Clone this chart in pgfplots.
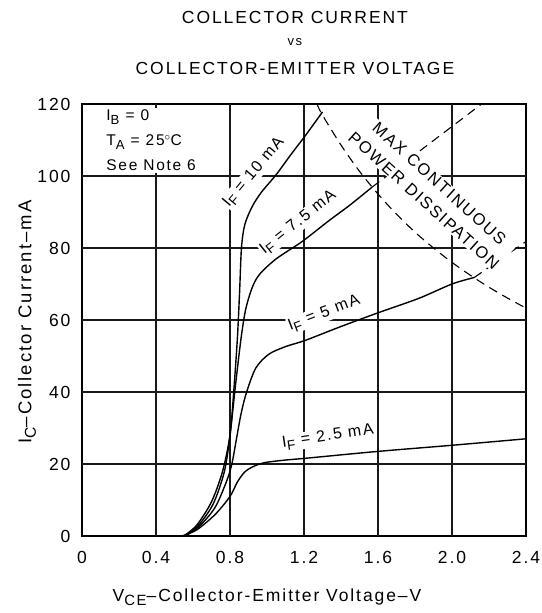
\documentclass[border=0pt]{standalone}
\usepackage{graphicx}
\usepackage{pgfplots}
\usepackage{pgfplotstable}
\pgfplotsset{compat=1.18}
\usepackage{fontspec}
\setmainfont{Liberation Sans}[LetterSpace=11]
\newcommand{\sub}[1]{\raisebox{-0.45ex}{\scalebox{0.85}{#1}}}
\pgfplotstableread{
x y
0.4 0
0.4 60
0.4 120
}\gA
\pgfplotstableread{
x y
0.8 0
0.8 60
0.8 120
}\gB
\pgfplotstableread{
x y
1.2 0
1.2 60
1.2 120
}\gC
\pgfplotstableread{
x y
1.6 0
1.6 60
1.6 120
}\gD
\pgfplotstableread{
x y
2.0 0
2.0 60
2.0 120
}\gE
\begin{document}
\begin{tikzpicture}
\begin{axis}[
  name=ax,
  scale only axis, width=444pt, height=432pt,
  xmin=0, xmax=2.4, ymin=0, ymax=120,
  xtick={0,0.4,0.8,1.2,1.6,2.0,2.4},
  xticklabels={0,0.4,0.8,1.2,1.6,2.0,2.4},
  ytick={0,20,40,60,80,100,120},
  yticklabels={0,20,40,60,80,100,120},
  grid=major,
  major grid style={draw=black!90, line width=1.1pt},
  axis line style={line width=1.3pt},
  tick align=inside,
  major tick length=3pt,
  tick label style={font=\fontsize{17.5}{20}\selectfont},
  xticklabel style={yshift=-12pt},
  yticklabel style={xshift=-8pt},
  clip=false,
  /pgf/number format/assume math mode=true,
]
\addplot[draw=black!90, line width=1.1pt] table {\gA};
\addplot[draw=black!90, line width=1.1pt] table {\gB};
\addplot[draw=black!90, line width=1.1pt] table {\gC};
\addplot[draw=black!90, line width=1.1pt] table {\gD};
\addplot[draw=black!90, line width=1.1pt] table {\gE};
\addplot[draw=black!90, line width=1.1pt] coordinates {(0,20) (1.2,20) (2.4,20)};
\addplot[draw=black!90, line width=1.1pt] coordinates {(0,40) (1.2,40) (2.4,40)};
\addplot[draw=black!90, line width=1.1pt] coordinates {(0,60) (1.2,60) (2.4,60)};
\addplot[draw=black!90, line width=1.1pt] coordinates {(0,80) (1.2,80) (2.4,80)};
\addplot[draw=black!90, line width=1.1pt] coordinates {(0,100) (1.2,100) (2.4,100)};
% I_F = 2.5 mA
\addplot[black, line width=1.4pt, smooth] coordinates {
(0.54,0) (0.62,1.7) (0.72,6) (0.80,11) (0.84,15) (0.88,17.8) (0.93,19.4) (0.99,20.4) (1.10,21.1) (1.21,21.6) (1.6,23.5) (2.0,25.2) (2.4,27)};
% I_F = 5 mA
\addplot[black, line width=1.4pt, smooth] coordinates {
(0.56,0) (0.64,3) (0.72,8) (0.78,15) (0.81,20) (0.835,27) (0.86,34) (0.89,40) (0.94,46.7) (1.01,50.5) (1.10,52.6) (1.21,54.4) (1.40,58.2) (1.60,62) (1.82,66) (2.0,70) (2.12,71.8)};
% I_F = 7.5 mA
\addplot[black, line width=1.4pt, smooth] coordinates {
(0.555,0) (0.63,3) (0.71,9) (0.77,18) (0.80,28) (0.83,42) (0.86,55) (0.885,63) (0.92,69) (0.96,72.7) (1.05,77) (1.19,81.8) (1.33,87.4) (1.45,92) (1.568,96.9)};
% I_F = 10 mA
\addplot[black, line width=1.4pt, smooth] coordinates {
(0.55,0) (0.62,3) (0.70,9.5) (0.76,18) (0.80,28) (0.82,40) (0.84,55) (0.852,68) (0.862,80) (0.88,86.5) (0.92,91.5) (0.97,95.5) (1.05,100.4) (1.13,106) (1.21,111.4) (1.30,117.8)};
% max power dissipation
\addplot[black, line width=1.1pt, dash pattern=on 9pt off 6pt, smooth] coordinates {
(1.27,120) (1.3,116.9) (1.4,108.6) (1.5,101.3) (1.6,95) (1.7,89.4) (1.8,84.4) (1.9,80) (2.0,76) (2.1,72.4) (2.2,69.1) (2.3,66.1) (2.4,63.3)};
\addplot[black, line width=1.1pt, dash pattern=on 9pt off 6pt] coordinates {(1.568,96.9) (2.16,120)};
\addplot[black, line width=1.1pt, dash pattern=on 9pt off 6pt] coordinates {(2.12,71.8) (2.4,81.8)};

% text box
\node[anchor=north west, fill=white, align=left, inner sep=2pt, font=\fontsize{15.5}{25}\selectfont] at (axis cs:0.12,119) {I\sub{B} = 0\\T\sub{A} = 25$^\circ$C\\See Note 6};
% curve labels
\node[rotate=50, fill=white, inner sep=1pt, font=\fontsize{16}{18}\selectfont] at (axis cs:0.93,101) {I\sub{F} = 10 mA};
\node[rotate=38.5, fill=white, inner sep=1pt, font=\fontsize{16}{18}\selectfont] at (axis cs:1.17,87) {I\sub{F} = 7.5 mA};
\node[rotate=21, fill=white, inner sep=1pt, font=\fontsize{16}{18}\selectfont] at (axis cs:1.31,61.8) {I\sub{F} = 5 mA};
\node[rotate=8.4, fill=white, inner sep=1pt, font=\fontsize{16}{18}\selectfont] at (axis cs:1.33,27.5) {I\sub{F} = 2.5 mA};
\node[rotate=-42, fill=white, inner sep=1pt, align=center, font=\fontsize{16.5}{23}\selectfont] at (axis cs:1.89,95.5) {MAX CONTINUOUS\\POWER DISSIPATION};
% titles
\node[font=\fontsize{17.5}{20}\selectfont] at (axis cs:1.151,143.9) {COLLECTOR CURRENT};
\node[font=\fontsize{13}{14}\selectfont] at (axis cs:1.151,137.2) {vs};
\node[font=\fontsize{17.5}{20}\selectfont] at (axis cs:1.151,130) {COLLECTOR-EMITTER VOLTAGE};
% axis labels
\node[font=\fontsize{17.5}{20}\selectfont] at (axis cs:1.0,-16.9) {V\sub{CE}--Collector-Emitter Voltage--V};
\node[rotate=90, font=\fontsize{18.5}{20}\selectfont] at (axis cs:-0.297,59.4) {I\sub{C}--Collector Current--mA};
\coordinate (bl) at (rel axis cs:0,0);
\coordinate (tr) at (rel axis cs:1,1);
\end{axis}
\pgfresetboundingbox
\path[use as bounding box] ([shift={(-82pt,-77pt)}]bl) rectangle ([shift={(15pt,104pt)}]tr);
\end{tikzpicture}
\end{document}
